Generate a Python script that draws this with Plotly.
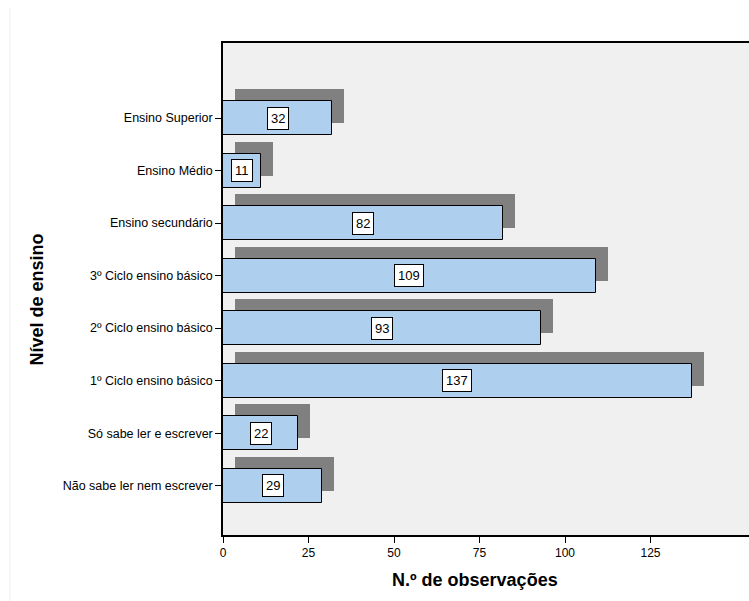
import plotly.graph_objects as go

# Education levels, bottom to top
levels = [
    "Não sabe ler nem escrever",
    "Só sabe ler e escrever",
    "1º Ciclo ensino básico",
    "2º Ciclo ensino básico",
    "3º Ciclo ensino básico",
    "Ensino secundário",
    "Ensino Médio",
    "Ensino Superior",
]
counts = [29, 22, 137, 93, 109, 82, 11, 32]
x_ticks = [0, 25, 50, 75, 100, 125]

W, H = 749, 601
L, T, B, R = 223, 43, 66, 0
x_max = 153.8
y_lo, y_hi = -0.94, 8.43

px_per_x = (W - L - R) / x_max
px_per_y = (H - T - B) / (y_hi - y_lo)
shift_px = 12
dx = shift_px / px_per_x
dy = shift_px / px_per_y

pos = list(range(len(levels)))
font = "Liberation Sans, Arial, sans-serif"

fig = go.Figure()

# drop shadow behind each bar
fig.add_trace(go.Bar(
    y=[p + dy for p in pos], x=counts, base=[dx] * len(counts),
    orientation="h", width=0.65,
    marker=dict(color="#808080", line=dict(width=0)),
    hoverinfo="skip", showlegend=False,
))

# main bars
fig.add_trace(go.Bar(
    y=pos, x=counts, orientation="h", width=0.65,
    marker=dict(color="#AED0EE", line=dict(color="#000000", width=1)),
    showlegend=False,
))

# value labels in white boxes
for p, c in zip(pos, counts):
    fig.add_annotation(
        x=c / 2, y=p, text=str(c), showarrow=False,
        font=dict(family=font, size=13, color="#000000"),
        bgcolor="#FFFFFF", bordercolor="#000000", borderwidth=1, borderpad=3,
    )

fig.add_annotation(
    xref="paper", yref="paper", x=0.479, y=-0.0915, yanchor="middle",
    text="<b>N.º de observações</b>", showarrow=False,
    font=dict(family=font, size=18, color="#000000"),
)
fig.add_annotation(
    xref="paper", yref="paper", x=-0.354, y=0.478, xanchor="center",
    yanchor="middle", textangle=-90,
    text="<b>Nível de ensino</b>", showarrow=False,
    font=dict(family=font, size=18, color="#000000"),
)

# faint outer frame edge
fig.add_shape(type="line", xref="paper", yref="paper",
              x0=-0.405, x1=-0.405, y0=-0.134, y1=1.071,
              line=dict(color="#EEEEEE", width=1))

fig.update_layout(
    width=W, height=H,
    margin=dict(l=L, r=R, t=T, b=B),
    paper_bgcolor="#FFFFFF", plot_bgcolor="#F0F0F0",
    barmode="overlay", bargap=0,
    font=dict(family=font, size=12, color="#000000"),
    xaxis=dict(
        range=[0, x_max], tickvals=x_ticks, ticks="outside", ticklen=6,
        tickcolor="#000000", showgrid=False, zeroline=False,
        showline=True, linecolor="#000000", linewidth=1.5, mirror=True,
        tickfont=dict(family=font, size=12),
    ),
    yaxis=dict(
        range=[y_lo, y_hi], tickvals=pos, ticktext=levels,
        ticks="outside", ticklen=6, tickcolor="#000000",
        showgrid=False, zeroline=False,
        showline=True, linecolor="#000000", linewidth=1.5,
        tickfont=dict(family=font, size=12.5),
    ),
)

fig.write_html("out.html")
